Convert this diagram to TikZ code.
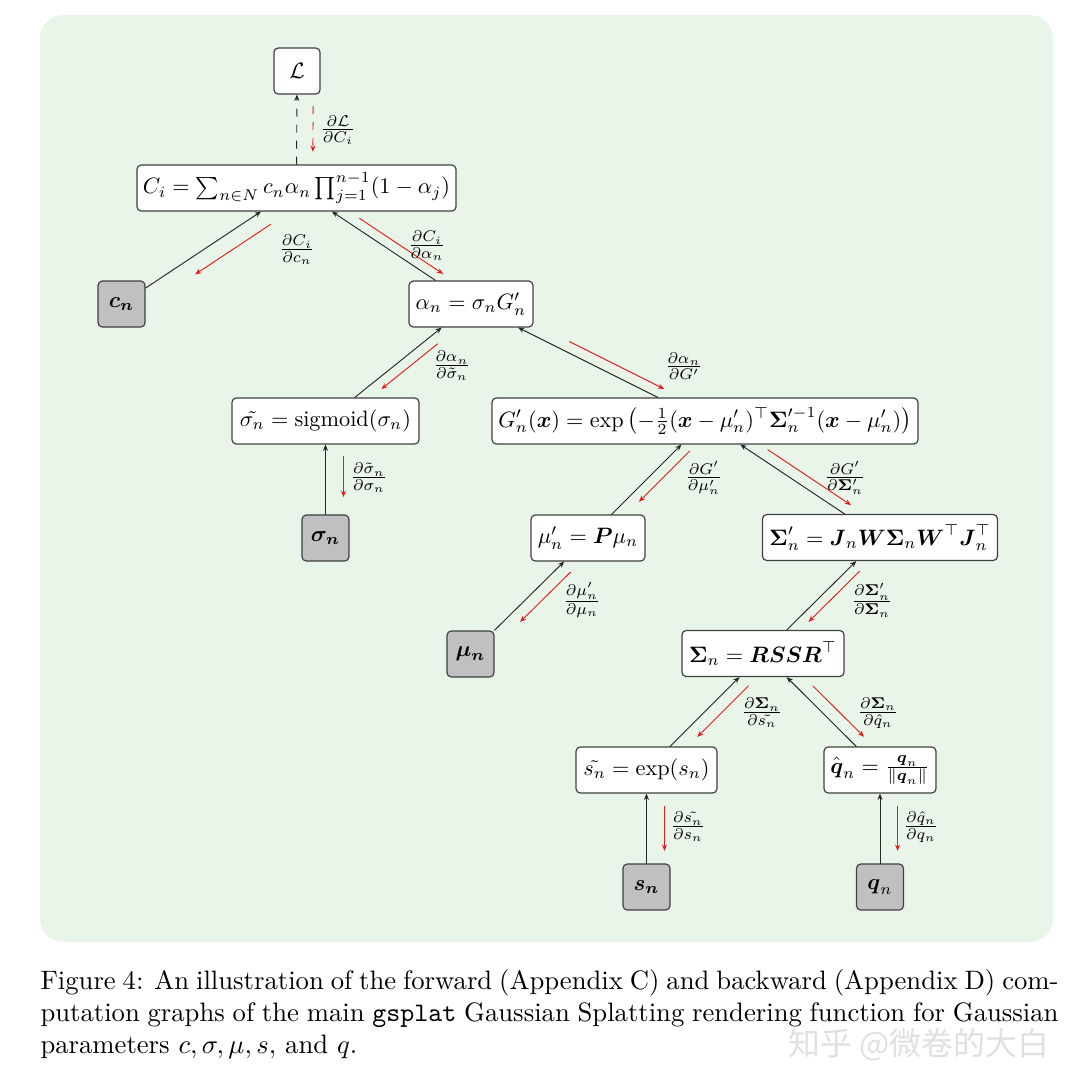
\documentclass[tikz,border=0pt]{standalone}
\usepackage{amsmath,amssymb}
\usepackage{fontspec}
\newfontfamily\cjkfont{Noto Sans CJK SC}
\usetikzlibrary{calc,arrows.meta}
\definecolor{bgg}{RGB}{234,245,233}
\definecolor{leafgray}{RGB}{192,192,192}
\definecolor{wmgray}{RGB}{224,224,224}
\definecolor{gradred}{RGB}{228,30,30}
\newcommand\gradarrow[6][]{\draw[bwd,#1] ($(#2)!#3!(#4)!#6!90:(#4)$) -- ($(#2)!#5!(#4)!#6!90:(#4)$);}
\tikzset{
  opbox/.style={draw=black!75, fill=white, rounded corners=1.6pt, line width=0.45pt,
    minimum height=20.66pt, inner xsep=1pt, inner ysep=0pt, scale=0.835},
  leafbox/.style={opbox, fill=leafgray, minimum width=21.1pt},
  fwd/.style={-{Stealth[length=2.4pt,width=1.9pt]}, line width=0.35pt, black!85},
  bwd/.style={-{Stealth[length=2.4pt,width=1.9pt]}, line width=0.35pt, gradred},
  lab/.style={inner sep=0pt, scale=0.835},
}
\begin{document}
\begin{tikzpicture}[x=0.375pt,y=-0.375pt]
\useasboundingbox (0,0) rectangle (1080,1088);
\fill[bgg, rounded corners=8.6pt] (40,15) rectangle (1053,942);

% nodes
\node[opbox, minimum width=20.7pt] (L) at (297,71) {$\mathcal{L}$};
\node[opbox, minimum width=143.3pt] (C) at (296.5,188) {$C_i = \sum_{n\in N} c_n\alpha_n \prod_{j=1}^{n-1}(1-\alpha_j)$};
\node[leafbox] (cn) at (121.5,304) {$\boldsymbol{c_n}$};
\node[opbox, minimum width=55.7pt] (al) at (471,304) {$\alpha_n = \sigma_n G'_n$};
\node[opbox, minimum width=84pt] (st) at (325.5,421) {$\tilde{\sigma_n} = \mathrm{sigmoid}(\sigma_n)$};
\node[opbox, minimum width=191.3pt] (G) at (705,421) {$G'_n(\boldsymbol{x}) = \exp\left(-\frac{1}{2}(\boldsymbol{x}-\mu'_n)^{\top}\boldsymbol{\Sigma}'^{-1}_n(\boldsymbol{x}-\mu'_n)\right)$};
\node[leafbox] (sn) at (325.5,538) {$\boldsymbol{\sigma_n}$};
\node[opbox, minimum width=51.2pt] (mup) at (588,538) {$\mu'_n = \boldsymbol{P}\mu_n$};
\node[opbox, minimum width=105.5pt] (Sp) at (880,537.5) {$\boldsymbol{\Sigma}'_n = \boldsymbol{J}_n\boldsymbol{W}\boldsymbol{\Sigma}_n\boldsymbol{W}^{\top}\boldsymbol{J}_n^{\top}$};
\node[leafbox] (mun) at (470.5,654) {$\boldsymbol{\mu_n}$};
\node[opbox, minimum width=72.8pt] (Sn) at (763,653.5) {$\boldsymbol{\Sigma}_n = \boldsymbol{R}\boldsymbol{S}\boldsymbol{S}\boldsymbol{R}^{\top}$};
\node[opbox, minimum width=63.3pt] (stl) at (646.5,770) {$\tilde{s_n} = \exp(s_n)$};
\node[opbox, minimum width=50.3pt] (qh) at (880,770) {$\hat{\boldsymbol{q}}_n = \frac{\boldsymbol{q}_n}{\|\boldsymbol{q}_n\|}$};
\node[leafbox] (ssn) at (646.5,887) {$\boldsymbol{s_n}$};
\node[leafbox] (qn) at (880,887) {$\boldsymbol{q}_n$};

% forward connectors
\draw[fwd, dashed] (C) -- (L);
\draw[fwd] (cn) -- (C);
\draw[fwd] (al) -- (C);
\draw[fwd] (st) -- (al);
\draw[fwd] (G) -- (al);
\draw[fwd] (sn) -- (st);
\draw[fwd] (mup) -- (G);
\draw[fwd] (Sp) -- (G);
\draw[fwd] (mun) -- (mup);
\draw[fwd] (Sn) -- (Sp);
\draw[fwd] (stl) -- (Sn);
\draw[fwd] (qh) -- (Sn);
\draw[fwd] (ssn) -- (stl);
\draw[fwd] (qn) -- (qh);

% backward (gradient) arrows
\gradarrow[dashed]{L}{0.30}{C}{0.69}{6.1pt}
\gradarrow{C}{0.197}{cn}{0.63}{6pt}
\gradarrow{C}{0.33}{al}{0.81}{3.6pt}
\gradarrow{al}{0.272}{st}{0.66}{3.8pt}
\gradarrow{al}{0.40}{G}{0.806}{3.9pt}
\gradarrow{st}{0.30}{sn}{0.65}{6.75pt}
\gradarrow{G}{0.193}{mup}{0.628}{3.9pt}
\gradarrow{G}{0.323}{Sp}{0.80}{4.1pt}
\gradarrow{mup}{0.219}{mun}{0.65}{4.5pt}
\gradarrow{Sp}{0.231}{Sn}{0.669}{3.6pt}
\gradarrow{Sn}{0.20}{stl}{0.64}{4.7pt}
\gradarrow{Sn}{0.352}{qh}{0.79}{4.6pt}
\gradarrow{stl}{0.308}{ssn}{0.692}{6.75pt}
\gradarrow{qh}{0.308}{qn}{0.692}{6.6pt}

% gradient labels
\node[lab] (g1) at (338,130) {$\frac{\partial\mathcal{L}}{\partial C_i}$};
\node[lab] (g2) at (297,250) {$\frac{\partial C_i}{\partial c_n}$};
\node[lab] (g3) at (427,246) {$\frac{\partial C_i}{\partial\alpha_n}$};
\node[lab] (g4) at (452,366) {$\frac{\partial\alpha_n}{\partial\tilde\sigma_n}$};
\node[lab] (g5) at (684,366) {$\frac{\partial\alpha_n}{\partial G'}$};
\node[lab] (g6) at (369,478) {$\frac{\partial\tilde\sigma_n}{\partial\sigma_n}$};
\node[lab] (g7) at (704,478) {$\frac{\partial G'}{\partial\mu'_n}$};
\node[lab] (g8) at (845,478) {$\frac{\partial G'}{\partial\boldsymbol{\Sigma}'_n}$};
\node[lab] (g9) at (582,600) {$\frac{\partial\mu'_n}{\partial\mu_n}$};
\node[lab] (g10) at (872,600) {$\frac{\partial\boldsymbol{\Sigma}'_n}{\partial\boldsymbol{\Sigma}_n}$};
\node[lab] (g11) at (762,713) {$\frac{\partial\boldsymbol{\Sigma}_n}{\partial\tilde{s_n}}$};
\node[lab] (g12) at (878,713) {$\frac{\partial\boldsymbol{\Sigma}_n}{\partial\hat{q}_n}$};
\node[lab] (g13) at (688,827) {$\frac{\partial\tilde{s_n}}{\partial s_n}$};
\node[lab] (g14) at (921,827) {$\frac{\partial\hat{q}_n}{\partial q_n}$};

% caption
\node[anchor=north west, inner sep=0pt, text width=381.75pt, align=justify] (cap) at (40,969)
 {Figure 4: An illustration of the forward (Appendix C) and backward (Appendix D) com-\linebreak
 putation graphs of the main \texttt{gsplat} Gaussian Splatting rendering function for Gaussian\linebreak
 parameters $c, \sigma, \mu, s,$ and $q$.};

% watermark
\node[anchor=east, inner sep=0pt, text=wmgray, font=\cjkfont\fontsize{12}{14}\selectfont] (wm) at (1050,1045) {知乎 @微卷的大白};
\end{tikzpicture}
\end{document}
